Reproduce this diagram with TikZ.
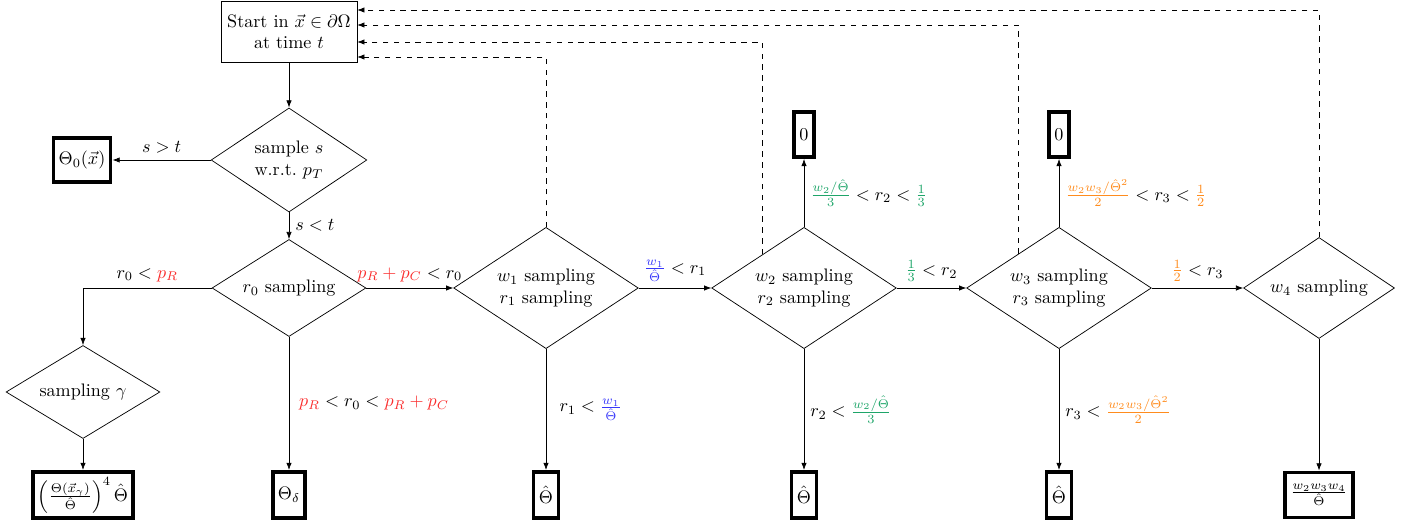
\documentclass[tikz,border=0pt]{standalone}
\usepackage{amsmath}
\usetikzlibrary{shapes.geometric,arrows.meta,calc}
\definecolor{cred}{RGB}{250,45,45}
\definecolor{cblue}{RGB}{55,55,250}
\definecolor{cgreen}{RGB}{30,165,105}
\definecolor{corange}{RGB}{255,140,30}
\tikzset{
  dia/.style={diamond, draw, inner sep=0pt, shape aspect=1.5, align=center},
  startbox/.style={rectangle, draw, align=center, inner sep=2pt},
  outbox/.style={rectangle, draw, line width=2pt, inner sep=2pt},
  arr/.style={-{Latex[length=4pt,width=3pt]}},
  back/.style={dashed, -{Latex[length=4pt,width=3pt]}},
}
\begin{document}
\begin{tikzpicture}[x=0.5525pt,y=-0.5525pt]
\useasboundingbox (0,0) rectangle (1412,528);
% nodes
\node[startbox, minimum width=75pt, minimum height=33.7pt] (start) at (289,31.5) {Start in $\vec{x}\in\partial\Omega$\\ at time $t$};
\node[dia, minimum width=86pt, minimum height=57.5pt] (sd) at (289,160) {sample $s$\\ w.r.t.\ $p_T$};
\node[outbox, minimum width=31.7pt, minimum height=24pt] (t0) at (82,160) {$\Theta_0(\vec{x})$};
\node[dia, minimum width=85pt, minimum height=53.6pt] (r0) at (289,288) {$r_0$ sampling};
\node[dia, minimum width=85pt, minimum height=51.4pt] (gam) at (83,392) {sampling $\gamma$};
\node[outbox, minimum width=55.5pt, minimum height=25.6pt] (gbox) at (83,495) {$\left(\frac{\Theta(\vec{x}_\gamma)}{\hat\Theta}\right)^4\hat\Theta$};
\node[outbox, minimum width=18pt, minimum height=25.6pt] (delta) at (289,495) {$\Theta_\delta$};
\node[dia, minimum width=102pt, minimum height=67pt] (w1) at (546,288) {$w_1$ sampling\\ $r_1$ sampling};
\node[dia, minimum width=102pt, minimum height=67pt] (w2) at (804,288) {$w_2$ sampling\\ $r_2$ sampling};
\node[dia, minimum width=102pt, minimum height=67pt] (w3) at (1059,288) {$w_3$ sampling\\ $r_3$ sampling};
\node[dia, minimum width=83.4pt, minimum height=55.8pt] (w4) at (1319,288) {$w_4$ sampling};
\node[outbox, minimum width=11.3pt, minimum height=25pt] (z2) at (804,134.5) {$0$};
\node[outbox, minimum width=11.3pt, minimum height=25pt] (z3) at (1059,134.5) {$0$};
\node[outbox, minimum width=14pt, minimum height=25.6pt] (h1) at (546,495) {$\hat\Theta$};
\node[outbox, minimum width=14pt, minimum height=25.6pt] (h2) at (804,495) {$\hat\Theta$};
\node[outbox, minimum width=14pt, minimum height=25.6pt] (h3) at (1059,495) {$\hat\Theta$};
\node[outbox, minimum width=37.8pt, minimum height=25pt] (fin) at (1319,495) {$\frac{w_2w_3w_4}{\hat\Theta}$};
% connectors
\draw[arr] (start) -- (sd);
\draw[arr] (sd.west) -- node[above]{$s>t$} (t0);
\draw[arr] (sd.south) -- node[right]{$s<t$} (r0.north);
\draw[arr] (r0.west) -- node[above]{$r_0<\textcolor{cred}{p_R}$} (r0.west -| gam.north) -- (gam.north);
\draw[arr] (gam) -- (gbox);
\draw[arr] (r0.south) -- node[right, xshift=2pt]{$\textcolor{cred}{p_R}<r_0<\textcolor{cred}{p_R+p_C}$} (delta);
\draw[arr] (r0.east) -- node[above]{$\textcolor{cred}{p_R+p_C}<r_0$} (w1.west);
\draw[arr] (w1.east) -- node[above]{$\textcolor{cblue}{\frac{w_1}{\hat\Theta}}<r_1$} (w2.west);
\draw[arr] (w1.south) -- node[right, xshift=4pt]{$r_1<\textcolor{cblue}{\frac{w_1}{\hat\Theta}}$} (h1);
\draw[arr] (w2.north) -- node[right]{$\textcolor{cgreen}{\frac{w_2/\hat\Theta}{3}}<r_2<\textcolor{cgreen}{\frac{1}{3}}$} (z2);
\draw[arr] (w2.east) -- node[above]{$\textcolor{cgreen}{\frac{1}{3}}<r_2$} (w3.west);
\draw[arr] (w2.south) -- node[right]{$r_2<\textcolor{cgreen}{\frac{w_2/\hat\Theta}{3}}$} (h2);
\draw[arr] (w3.north) -- node[right]{$\textcolor{corange}{\frac{w_2w_3/\hat\Theta^2}{2}}<r_3<\textcolor{corange}{\frac{1}{2}}$} (z3);
\draw[arr] (w3.east) -- node[above]{$\textcolor{corange}{\frac{1}{2}}<r_3$} (w4.west);
\draw[arr] (w3.south) -- node[right]{$r_3<\textcolor{corange}{\frac{w_2w_3/\hat\Theta^2}{2}}$} (h3);
\draw[arr] (w4.south) -- (fin);
% dashed returns
\draw[back] (w1.north) |- ($(start.east)+(0,25.5)$);
\draw[back] ($(w2.north)!0.45!(w2.west)$) |- ($(start.east)+(0,10.5)$);
\draw[back] ($(w3.north)!0.44!(w3.west)$) |- ($(start.east)+(0,-6.5)$);
\draw[back] (w4.north) |- ($(start.east)+(0,-21.5)$);
\end{tikzpicture}
\end{document}
